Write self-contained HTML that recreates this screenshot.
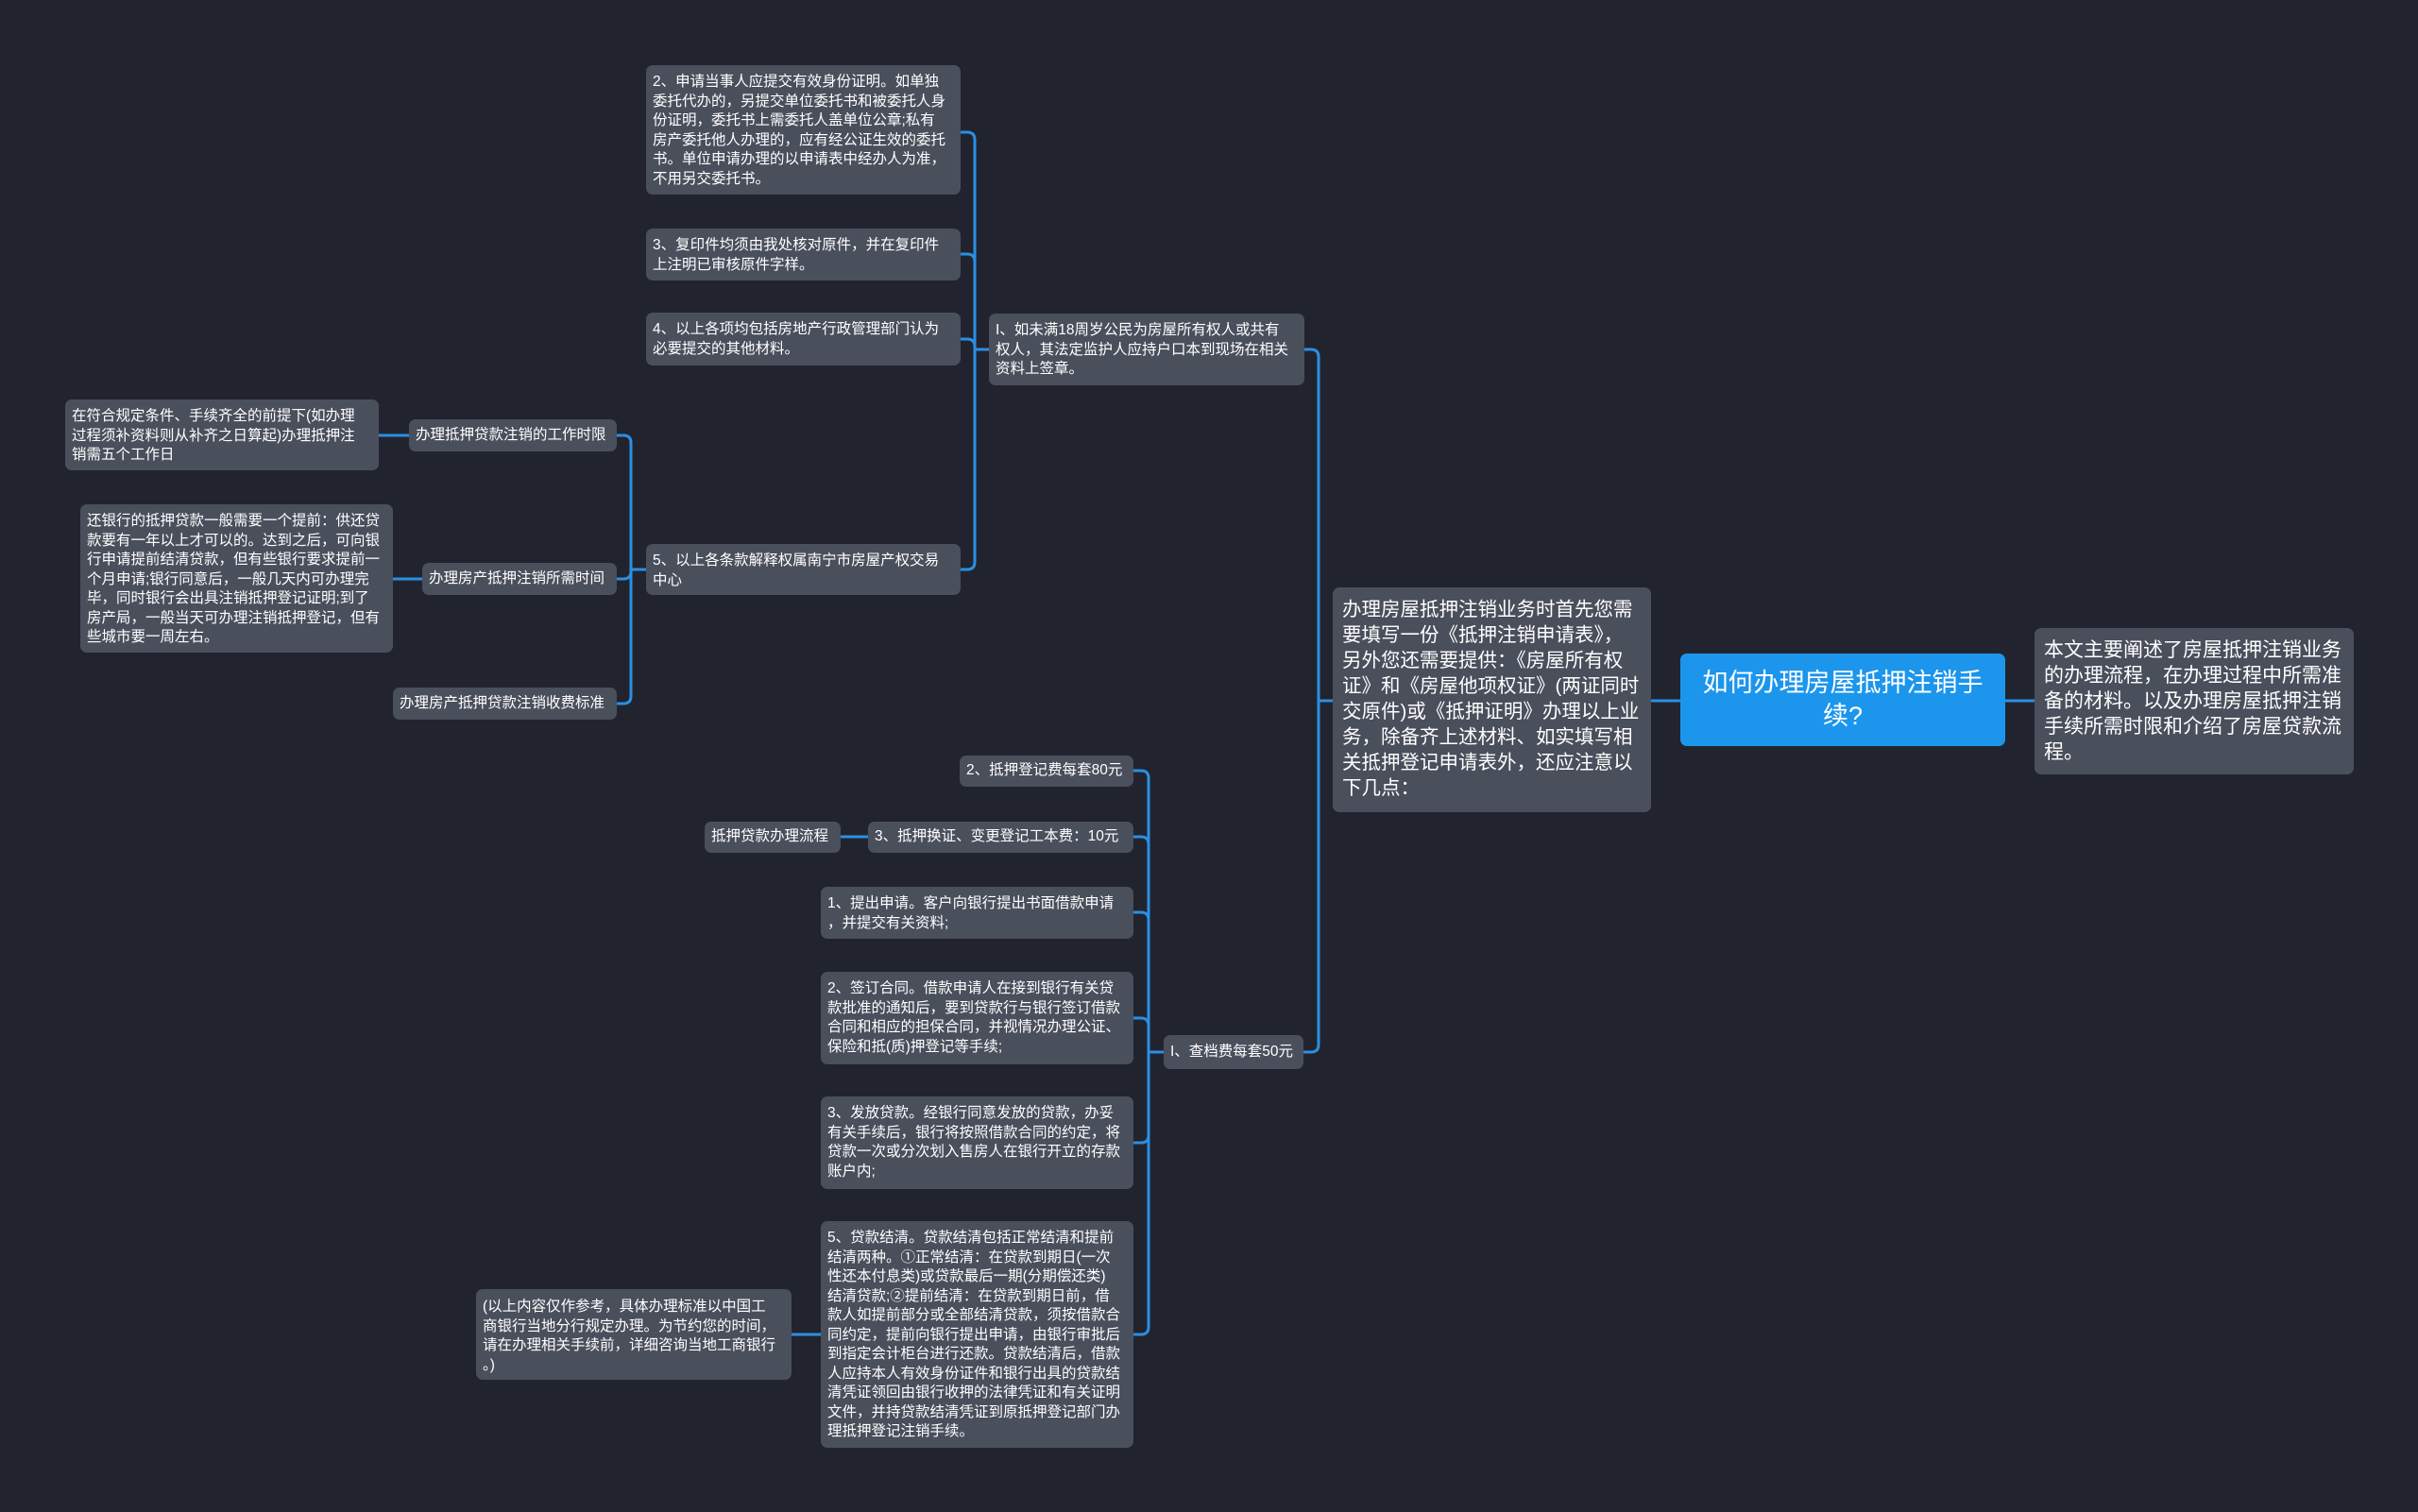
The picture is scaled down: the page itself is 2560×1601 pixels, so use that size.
<!DOCTYPE html>
<html><head><meta charset="utf-8">
<style>
html,body{margin:0;padding:0;}
body{width:2560px;height:1601px;background:#21242f;position:relative;overflow:hidden;font-family:"Liberation Sans","Noto Sans CJK SC",sans-serif;}
.n{position:absolute;box-sizing:border-box;background:#4a4f5c;color:#fff;border-radius:7px;font-size:15.5px;line-height:20.5px;padding:8px 7px 6px;white-space:nowrap;}
.c{display:flex;align-items:center;padding-top:6px;}
svg{position:absolute;left:0;top:0;}
</style></head><body>
<svg width="2560" height="1601">
<g fill="none" stroke="#2b8fe3" stroke-width="3" stroke-linecap="round">
<path d="M1749 742 H1779"/>
<path d="M2123 742 H2154"/>
<path d="M1411 742 H1396"/>
<path d="M1381 370 H1388 Q1396 370 1396 378 V1106 Q1396 1114 1388 1114 H1381"/>
<path d="M1047 370 H1032"/>
<path d="M1017 140 H1024 Q1032 140 1032 148 V595 Q1032 603 1024 603 H1017"/>
<path d="M1017 269 H1024 Q1032 269 1032 277"/>
<path d="M1017 359 H1024 Q1032 359 1032 367"/>
<path d="M684 603 H668"/>
<path d="M653 461 H660 Q668 461 668 469 V737 Q668 745 660 745 H653"/>
<path d="M653 613 H660 Q668 613 668 605"/>
<path d="M433 461 H401"/>
<path d="M447 613 H416"/>
<path d="M1232 1114 H1216"/>
<path d="M1200 816 H1208 Q1216 816 1216 824 V1405 Q1216 1413 1208 1413 H1200"/>
<path d="M1200 886 H1208 Q1216 886 1216 894"/>
<path d="M1200 966 H1208 Q1216 966 1216 974"/>
<path d="M1200 1078 H1208 Q1216 1078 1216 1086"/>
<path d="M1200 1210 H1208 Q1216 1210 1216 1202"/>
<path d="M890 886 H919"/>
<path d="M838 1413 H869"/>
</g>
</svg>

<div class="n c" style="left:1779px;top:692px;width:344px;height:98px;background:#1c96ec;font-size:27px;line-height:35px;justify-content:center;text-align:center;white-space:normal;padding:6px 14px;">如何办理房屋抵押注销手<br>续?</div>
<div class="n" style="left:2154px;top:665px;width:338px;height:155px;font-size:21px;line-height:27px;padding:10px 10px;">本文主要阐述了房屋抵押注销业务<br>的办理流程，在办理过程中所需准<br>备的材料。以及办理房屋抵押注销<br>手续所需时限和介绍了房屋贷款流<br>程。</div>
<div class="n" style="left:1411px;top:622px;width:337px;height:238px;font-size:20.5px;line-height:27px;padding:10px 10px;">办理房屋抵押注销业务时首先您需<br>要填写一份《抵押注销申请表》，<br>另外您还需要提供：《房屋所有权<br>证》和《房屋他项权证》(两证同时<br>交原件)或《抵押证明》办理以上业<br>务，除备齐上述材料、如实填写相<br>关抵押登记申请表外，还应注意以<br>下几点：</div>

<div class="n" style="left:1047px;top:332px;width:334px;height:76px;">I、如未满18周岁公民为房屋所有权人或共有<br>权人，其法定监护人应持户口本到现场在相关<br>资料上签章。</div>
<div class="n" style="left:684px;top:69px;width:333px;height:137px;">2、申请当事人应提交有效身份证明。如单独<br>委托代办的，另提交单位委托书和被委托人身<br>份证明，委托书上需委托人盖单位公章;私有<br>房产委托他人办理的，应有经公证生效的委托<br>书。单位申请办理的以申请表中经办人为准，<br>不用另交委托书。</div>
<div class="n" style="left:684px;top:242px;width:333px;height:55px;">3、复印件均须由我处核对原件，并在复印件<br>上注明已审核原件字样。</div>
<div class="n" style="left:684px;top:331px;width:333px;height:56px;">4、以上各项均包括房地产行政管理部门认为<br>必要提交的其他材料。</div>
<div class="n" style="left:684px;top:576px;width:333px;height:54px;">5、以上各条款解释权属南宁市房屋产权交易<br>中心</div>

<div class="n c" style="left:433px;top:444px;width:220px;height:34px;">办理抵押贷款注销的工作时限</div>
<div class="n c" style="left:447px;top:596px;width:206px;height:34px;">办理房产抵押注销所需时间</div>
<div class="n c" style="left:416px;top:728px;width:237px;height:34px;">办理房产抵押贷款注销收费标准</div>
<div class="n" style="left:69px;top:423px;width:332px;height:75px;">在符合规定条件、手续齐全的前提下(如办理<br>过程须补资料则从补齐之日算起)办理抵押注<br>销需五个工作日</div>
<div class="n" style="left:85px;top:534px;width:331px;height:157px;">还银行的抵押贷款一般需要一个提前：供还贷<br>款要有一年以上才可以的。达到之后，可向银<br>行申请提前结清贷款，但有些银行要求提前一<br>个月申请;银行同意后，一般几天内可办理完<br>毕，同时银行会出具注销抵押登记证明;到了<br>房产局，一般当天可办理注销抵押登记，但有<br>些城市要一周左右。</div>

<div class="n c" style="left:1232px;top:1096px;width:148px;height:36px;">I、查档费每套50元</div>
<div class="n c" style="left:1016px;top:800px;width:184px;height:33px;">2、抵押登记费每套80元</div>
<div class="n c" style="left:919px;top:870px;width:281px;height:33px;">3、抵押换证、变更登记工本费：10元</div>
<div class="n c" style="left:746px;top:870px;width:144px;height:33px;">抵押贷款办理流程</div>
<div class="n" style="left:869px;top:939px;width:331px;height:55px;">1、提出申请。客户向银行提出书面借款申请<br>，并提交有关资料;</div>
<div class="n" style="left:869px;top:1029px;width:331px;height:98px;">2、签订合同。借款申请人在接到银行有关贷<br>款批准的通知后，要到贷款行与银行签订借款<br>合同和相应的担保合同，并视情况办理公证、<br>保险和抵(质)押登记等手续;</div>
<div class="n" style="left:869px;top:1161px;width:331px;height:98px;">3、发放贷款。经银行同意发放的贷款，办妥<br>有关手续后，银行将按照借款合同的约定，将<br>贷款一次或分次划入售房人在银行开立的存款<br>账户内;</div>
<div class="n" style="left:869px;top:1293px;width:331px;height:240px;">5、贷款结清。贷款结清包括正常结清和提前<br>结清两种。①正常结清：在贷款到期日(一次<br>性还本付息类)或贷款最后一期(分期偿还类)<br>结清贷款;②提前结清：在贷款到期日前，借<br>款人如提前部分或全部结清贷款，须按借款合<br>同约定，提前向银行提出申请，由银行审批后<br>到指定会计柜台进行还款。贷款结清后，借款<br>人应持本人有效身份证件和银行出具的贷款结<br>清凭证领回由银行收押的法律凭证和有关证明<br>文件，并持贷款结清凭证到原抵押登记部门办<br>理抵押登记注销手续。</div>
<div class="n" style="left:504px;top:1365px;width:334px;height:96px;padding-top:9px;">(以上内容仅作参考，具体办理标准以中国工<br>商银行当地分行规定办理。为节约您的时间，<br>请在办理相关手续前，详细咨询当地工商银行<br>。)</div>
</body></html>
